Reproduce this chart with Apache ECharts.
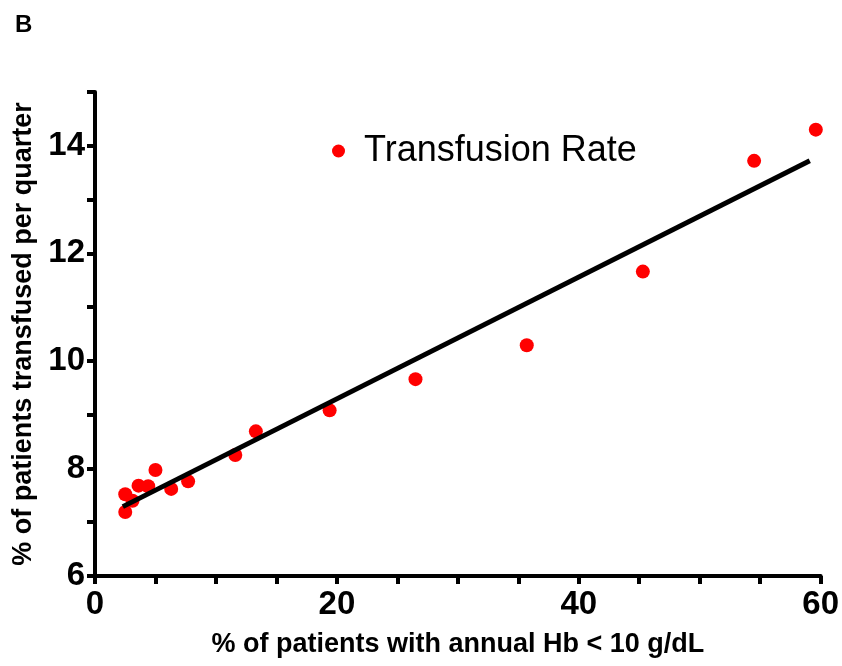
<!DOCTYPE html>
<html>
<head>
<meta charset="utf-8">
<script src="https://cdn.jsdelivr.net/npm/echarts@6/dist/echarts.min.js"></script>
<style>
  html, body { margin: 0; padding: 0; background: #fff; }
  #chart { width: 842px; height: 666px; }
</style>
</head>
<body>
<div id="chart"></div>
<script>
// values
var hbLow = [2.5, 2.5, 3.1, 3.6, 4.4, 5.0, 6.3, 7.7, 11.6, 13.3, 19.4, 26.5, 35.7, 45.3, 54.5, 59.6];
var transfusion = [7.19, 7.52, 7.40, 7.68, 7.67, 7.97, 7.62, 7.76, 8.25, 8.69, 9.08, 9.66, 10.29, 11.66, 13.72, 14.30];
var fitX = [2.3, 59.1];
var fitY = [7.29, 13.72];
var xTickLabels = [0, 20, 40, 60];
var yTickLabels = [6, 8, 10, 12, 14];

var points = hbLow.map(function (x, i) { return [x, transfusion[i]]; });
var fitLine = fitX.map(function (x, i) { return [x, fitY[i]]; });

var font = "'Liberation Sans', Arial, sans-serif";
var axisCommon = {
  type: "value",
  nameLocation: "middle",
  nameTextStyle: { fontFamily: font, fontWeight: "bold", fontSize: 27, color: "#000" },
  axisLine: { show: true, lineStyle: { color: "#000", width: 4 } },
  axisTick: { show: true, length: 8, lineStyle: { color: "#000", width: 4 } },
  splitLine: { show: false }
};

var myChart = echarts.init(document.getElementById("chart"));
myChart.setOption({
  animation: false,
  title: {
    text: "B",
    left: 10,
    top: 8,
    textStyle: { fontFamily: font, fontWeight: "bold", fontSize: 24, color: "#000" }
  },
  legend: {
    data: ["Transfusion Rate"],
    left: 327,
    top: 128,
    icon: "circle",
    itemWidth: 13,
    itemHeight: 13,
    textStyle: { fontFamily: font, fontSize: 36, color: "#000", padding: [0, 0, 0, 14] }
  },
  grid: { left: 95, right: 21, top: 92, bottom: 90 },
  xAxis: Object.assign({}, axisCommon, {
    name: "% of patients with annual Hb < 10 g/dL",
    nameGap: 55,
    min: 0,
    max: 60,
    interval: 5,
    axisLabel: {
      fontFamily: font, fontWeight: "bold", fontSize: 33, color: "#000", margin: 12,
      formatter: function (v) { return xTickLabels.indexOf(v) >= 0 ? String(v) : ""; }
    }
  }),
  yAxis: Object.assign({}, axisCommon, {
    name: "% of patients transfused per quarter",
    nameGap: 55,
    min: 6,
    max: 15,
    interval: 1,
    axisLabel: {
      fontFamily: font, fontWeight: "bold", fontSize: 33, color: "#000", margin: 10,
      formatter: function (v) { return yTickLabels.indexOf(v) >= 0 ? String(v) : ""; }
    }
  }),
  series: [
    {
      name: "Transfusion Rate",
      type: "scatter",
      data: points,
      symbolSize: 14,
      itemStyle: { color: "#ff0000", opacity: 1 },
      z: 2
    },
    {
      name: "fit",
      type: "line",
      data: fitLine,
      symbol: "none",
      lineStyle: { color: "#000", width: 5 },
      z: 3
    }
  ]
});
</script>
</body>
</html>
